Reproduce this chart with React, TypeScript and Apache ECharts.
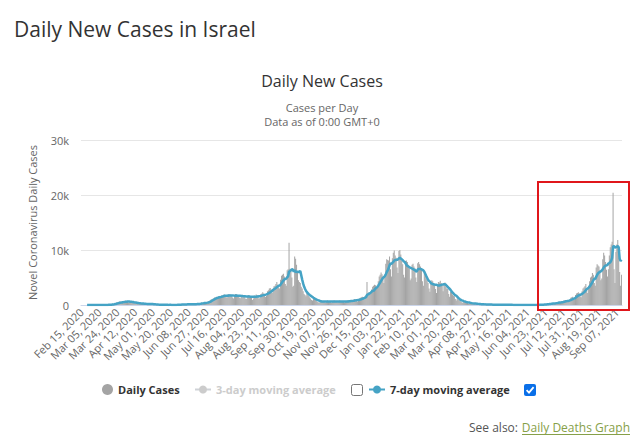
import React, { useEffect, useRef } from "react";
import * as echarts from "echarts";

// ---- Data (daily new cases) ----
const START_DATE = "2020-02-15";
const FEB_2020 = [0, 0, 0, 0, 0, 0, 1, 0, 0, 0, 1, 0, 1, 0, 0];
const MAR_2020 = [1, 2, 3, 5, 3, 4, 1, 0, 11, 14, 25, 30, 28, 48, 70, 50, 90, 100, 240, 175, 230, 310, 250, 560, 370, 560, 660, 370, 460, 600, 700];
const APR_2020 = [530, 770, 580, 730, 470, 530, 580, 570, 490, 430, 380, 290, 350, 360, 320, 290, 270, 240, 200, 210, 260, 140, 200, 190, 180, 150, 150, 160, 200, 180];
const MAY_2020 = [110, 90, 60, 50, 60, 90, 70, 20, 10, 30, 30, 20, 20, 40, 30, 10, 20, 15, 25, 30, 20, 15, 20, 20, 15, 30, 40, 80, 110, 90, 80];
const JUN_2020 = [120, 100, 120, 140, 110, 90, 120, 140, 130, 150, 110, 140, 200, 130, 150, 190, 220, 280, 240, 220, 300, 420, 380, 400, 480, 300, 450, 560, 700, 680];
const JUL_2020 = [900, 1000, 1100, 1150, 1250, 1400, 1300, 1500, 1450, 1550, 1500, 1350, 1750, 1700, 1800, 1950, 1700, 1400, 1350, 1950, 2000, 1900, 1930, 1650, 1380, 1200, 1870, 2000, 1950, 1850, 1500];
const AUG_2020 = [1350, 1250, 1700, 1850, 1800, 1750, 1500, 1100, 1150, 1700, 1800, 1700, 1650, 1550, 900, 1200, 1750, 1650, 1900, 1800, 1600, 1150, 1300, 2000, 2100, 2300, 2100, 1900, 1450, 1700, 2500];
const SEP_2020 = [2700, 3000, 3100, 2800, 2200, 2800, 3400, 3500, 3800, 4200, 3700, 3200, 3000, 4600, 5300, 5500, 5700, 5200, 3800, 3500, 6300, 6500, 11300, 6600, 6200, 5000, 3300, 3500, 8800, 8400];
const OCT_2020 = [7300, 6000, 4500, 4200, 4000, 3300, 3000, 2500, 2000, 1800, 1600, 2200, 2000, 1700, 1400, 1200, 900, 800, 1300, 1200, 900, 800, 600, 500, 400, 700, 800, 700, 650, 600, 500];
const NOV_2020 = [450, 700, 800, 750, 700, 550, 400, 600, 750, 800, 700, 650, 600, 450, 600, 800, 750, 700, 650, 550, 450, 600, 700, 800, 850, 800, 650, 550, 700, 900];
const DEC_2020 = [1000, 1100, 1000, 900, 650, 900, 1200, 1300, 1400, 1500, 1300, 1000, 1600, 1800, 4200, 2000, 2300, 1900, 2000, 2800, 3300, 3500, 3700, 3600, 3000, 3200, 4300, 5200, 5500, 5900, 5600];
const JAN_2021 = [5000, 4000, 5500, 7500, 8300, 8200, 8100, 8800, 6500, 5200, 8500, 9500, 9900, 9000, 8600, 6800, 5800, 9800, 10000, 9200, 8000, 7400, 5500, 5000, 8000, 8100, 7800, 7300, 6600, 4500, 4800];
const FEB_2021 = [7300, 7500, 7000, 6700, 5000, 4200, 7600, 7800, 7400, 7000, 6500, 4300, 3500, 5800, 5200, 4800, 4500, 4000, 3000, 2400, 4000, 4500, 4300, 4000, 3800, 2900, 2200, 3500];
const MAR_2021 = [4200, 4100, 4400, 4000, 3500, 2500, 3800, 4100, 3300, 3000, 2900, 2000, 1500, 2400, 2300, 1900, 1700, 1600, 1100, 800, 1200, 1000, 900, 800, 700, 500, 400, 700, 600, 500, 450];
const APR_2021 = [400, 300, 200, 250, 350, 300, 280, 250, 200, 150, 180, 200, 170, 150, 130, 100, 90, 120, 110, 100, 90, 80, 70, 60, 80, 70, 60, 50, 70, 60];
const MAY_2021 = [50, 40, 45, 60, 50, 40, 30, 25, 40, 35, 30, 40, 35, 20, 15, 25, 30, 20, 15, 20, 15, 10, 20, 15, 10, 10, 15, 20, 15, 10, 10];
const JUN_2021 = [10, 10, 5, 15, 10, 5, 10, 15, 10, 5, 10, 15, 10, 20, 30, 40, 60, 50, 70, 90, 100, 120, 130, 150, 220, 230, 200, 250, 300, 330];
const JUL_2021 = [350, 300, 250, 400, 450, 500, 600, 550, 500, 400, 600, 700, 800, 850, 900, 700, 550, 900, 1100, 1300, 1400, 1500, 1200, 900, 1800, 2100, 2200, 2300, 2100, 1600, 1400];
const AUG_2021 = [2500, 3000, 3200, 3400, 3800, 3000, 2200, 3500, 4300, 5000, 5200, 5800, 5500, 4000, 3500, 6800, 7400, 7200, 7000, 6300, 4500, 4800, 8300, 9500, 9000, 7800, 6400, 5200, 6500, 9000, 10500];
const SEP_2021 = [11000, 11500, 20400, 6500, 4000, 9700, 11000, 11800, 10000, 6000, 3500, 5500];

const DAILY_CASES = [
  ...FEB_2020, ...MAR_2020, ...APR_2020, ...MAY_2020, ...JUN_2020, ...JUL_2020,
  ...AUG_2020, ...SEP_2020, ...OCT_2020, ...NOV_2020, ...DEC_2020,
  ...JAN_2021, ...FEB_2021, ...MAR_2021, ...APR_2021, ...MAY_2021, ...JUN_2021,
  ...JUL_2021, ...AUG_2021, ...SEP_2021,
];

const Y_MIN = 0;
const Y_MAX = 30000;
const Y_STEP = 10000;
const LABEL_EVERY = 19;

const MONTHS = ["Jan", "Feb", "Mar", "Apr", "May", "Jun", "Jul", "Aug", "Sep", "Oct", "Nov", "Dec"];

function buildCategories(start: string, n: number): string[] {
  const [y, m, d] = start.split("-").map(Number);
  const base = Date.UTC(y, m - 1, d);
  const out: string[] = [];
  for (let i = 0; i < n; i++) {
    const dt = new Date(base + i * 86400000);
    const dd = String(dt.getUTCDate()).padStart(2, "0");
    out.push(`${MONTHS[dt.getUTCMonth()]} ${dd}, ${dt.getUTCFullYear()}`);
  }
  return out;
}

// 7-day moving average of the daily values (trailing window)
function movingAverage(vals: number[], w: number): (number | null)[] {
  return vals.map((_, i) => {
    if (i < w - 1) return null;
    let s = 0;
    for (let k = i - w + 1; k <= i; k++) s += vals[k];
    return Math.round(s / w);
  });
}

const FONT = '"Open Sans", "Noto Sans", sans-serif';

export default function App() {
  const ref = useRef<HTMLDivElement>(null);

  useEffect(() => {
    if (!ref.current) return;
    const chart = echarts.init(ref.current, null, { renderer: "svg" });
    const categories = buildCategories(START_DATE, DAILY_CASES.length);
    const avg7 = movingAverage(DAILY_CASES, 7);

    const legendText = { color: "#333333", fontWeight: "bold", fontSize: 11, fontFamily: FONT };

    const option: any = {
      animation: false,
      backgroundColor: "#ffffff",
      textStyle: { fontFamily: FONT },
      grid: { left: 81, right: 18, top: 140, bottom: 137, containLabel: false },
      xAxis: {
        type: "category",
        data: categories,
        boundaryGap: true,
        axisLine: { lineStyle: { color: "#ccd6eb" } },
        axisTick: { show: false },
        axisLabel: {
          interval: LABEL_EVERY - 1,
          rotate: 45,
          color: "#666666",
          fontSize: 11,
          fontFamily: FONT,
          margin: 5,
        },
      },
      yAxis: {
        type: "value",
        min: Y_MIN,
        max: Y_MAX,
        interval: Y_STEP,
        name: "Novel Coronavirus Daily Cases",
        nameLocation: "middle",
        nameGap: 43,
        nameTextStyle: { color: "#666666", fontSize: 11, fontFamily: FONT },
        axisLine: { show: false },
        axisTick: { show: false },
        axisLabel: {
          color: "#666666",
          fontSize: 11,
          fontFamily: FONT,
          margin: 12,
          formatter: (v: number) => (v === 0 ? "0" : `${v / 1000}k`),
        },
        splitLine: { lineStyle: { color: "#e6e6e6" } },
      },
      legend: [
        {
          data: [{ name: "Daily Cases", icon: "circle" }],
          left: 102,
          top: 384,
          padding: 0,
          itemWidth: 11,
          itemHeight: 11,
          itemGap: 0,
          textStyle: legendText,
        },
        {
          data: ["3-day moving average"],
          left: 194,
          top: 384,
          padding: 0,
          itemWidth: 16,
          itemHeight: 10,
          itemGap: 0,
          selected: { "3-day moving average": false },
          inactiveColor: "#cccccc",
          textStyle: legendText,
        },
        {
          data: ["7-day moving average"],
          left: 368,
          top: 384,
          padding: 0,
          itemWidth: 16,
          itemHeight: 10,
          itemGap: 0,
          textStyle: legendText,
        },
      ],
      series: [
        {
          name: "Daily Cases",
          type: "bar",
          data: DAILY_CASES,
          barCategoryGap: "25%",
          itemStyle: { color: "#a4a4a4" },
          z: 2,
        },
        {
          name: "3-day moving average",
          type: "line",
          data: [],
          symbol: "circle",
          symbolSize: 6,
          itemStyle: { color: "#cccccc" },
        },
        {
          name: "7-day moving average",
          type: "line",
          data: avg7,
          symbol: "circle",
          symbolSize: 6,
          showSymbol: false,
          itemStyle: { color: "#45a3c5" },
          lineStyle: { color: "#45a3c5", width: 2.5 },
          z: 3,
        },
      ],
      graphic: [
        {
          type: "text",
          x: 14,
          y: 29,
          style: { text: "Daily New Cases in Israel", fill: "#333333", font: `21px ${FONT}`, align: "left", verticalAlign: "middle", textAlign: "left", textVerticalAlign: "middle" },
        },
        {
          type: "text",
          x: 322,
          y: 81,
          style: { text: "Daily New Cases", fill: "#333333", font: `16px ${FONT}`, align: "center", verticalAlign: "middle", textAlign: "center", textVerticalAlign: "middle" },
        },
        {
          type: "text",
          x: 322,
          y: 107,
          style: { text: "Cases per Day", fill: "#666666", font: `11px ${FONT}`, align: "center", verticalAlign: "middle", textAlign: "center", textVerticalAlign: "middle" },
        },
        {
          type: "text",
          x: 322,
          y: 121,
          style: { text: "Data as of 0:00 GMT+0", fill: "#666666", font: `11px ${FONT}`, align: "center", verticalAlign: "middle", textAlign: "center", textVerticalAlign: "middle" },
        },
        // unchecked checkbox (3-day)
        {
          type: "rect",
          shape: { x: 351.5, y: 384.5, width: 11, height: 11, r: 2 },
          style: { fill: "#ffffff", stroke: "#767676", lineWidth: 1 },
        },
        // checked checkbox (7-day)
        {
          type: "rect",
          shape: { x: 524, y: 384, width: 12, height: 12, r: 2 },
          style: { fill: "#0a6fe8" },
        },
        {
          type: "polyline",
          shape: { points: [[526.6, 390.2], [529, 392.6], [533.6, 387.2]] },
          style: { stroke: "#ffffff", lineWidth: 1.8, fill: "none" },
        },
        // "See also" line
        {
          type: "text",
          x: 518,
          y: 427,
          style: { text: "See also:", fill: "#555555", font: `12px ${FONT}`, align: "right", verticalAlign: "middle", textAlign: "right", textVerticalAlign: "middle" },
        },
        {
          type: "text",
          x: 630,
          y: 427,
          style: { text: "Daily Deaths Graph", fill: "#86a048", font: `12px ${FONT}`, align: "right", verticalAlign: "middle", textAlign: "right", textVerticalAlign: "middle" },
        },
        {
          type: "line",
          shape: { x1: 522, y1: 434.5, x2: 630, y2: 434.5 },
          style: { stroke: "#86a048", lineWidth: 1 },
        },
        // red highlight box
        {
          type: "rect",
          shape: { x: 538, y: 182, width: 91, height: 128 },
          style: { fill: "none", stroke: "#e0161b", lineWidth: 2 },
          z: 100,
        },
      ],
    };

    chart.setOption(option);
    return () => chart.dispose();
  }, []);

  return (
    <div
      ref={ref}
      style={{ position: "fixed", left: 0, top: 0, width: 640, height: 442, background: "#ffffff" }}
    />
  );
}
